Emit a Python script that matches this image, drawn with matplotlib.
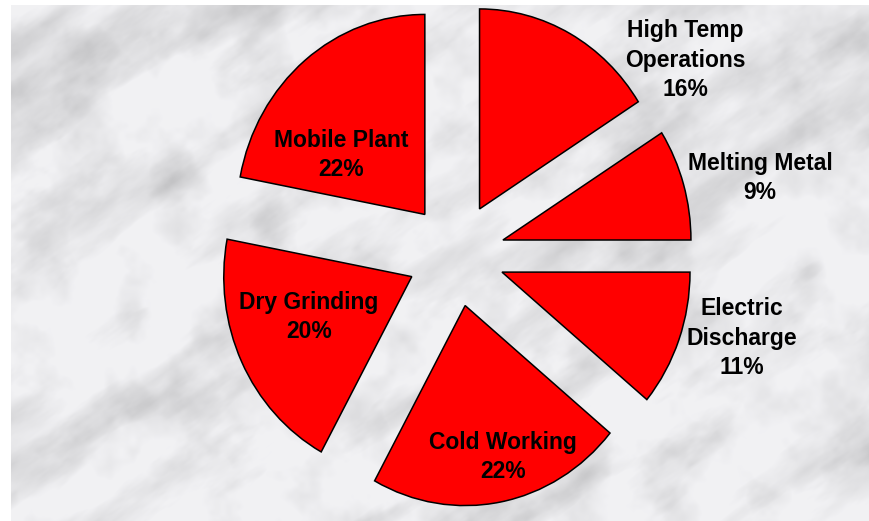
import numpy as np
import matplotlib
matplotlib.use("Agg")
import matplotlib.pyplot as plt
import matplotlib.transforms as mtransforms

# ---- data ----
categories = ["High Temp\nOperations", "Melting Metal", "Electric\nDischarge",
              "Cold Working", "Dry Grinding", "Mobile Plant"]
values = [16, 9, 11, 22, 20, 22]

# ---- layout (pixels of the 870x521 canvas) ----
W, H = 870, 521
CX, CY = 456.0, 254.5        # pie centre (image pixels, y down)
RX, RY = 188.0, 200.0        # horizontal / vertical radius in pixels
EXPLODE = 0.26
label_px = [(685, 60), (760, 178), (742, 338), (503, 457), (309, 317), (341, 155)]
LINE_PX = 29.5

fig = plt.figure(figsize=(W / 100, H / 100), dpi=100)
fig.patch.set_facecolor("white")

# ---- marble background (decorative, deterministic procedural texture) ----
def hash2(ix, iy):
    v = np.sin(ix * 12.9898 + iy * 78.233) * 43758.5453
    return v - np.floor(v)

def vnoise(x, y):
    ix, iy = np.floor(x), np.floor(y)
    fx, fy = x - ix, y - iy
    u = fx * fx * (3 - 2 * fx)
    v = fy * fy * (3 - 2 * fy)
    a = hash2(ix, iy); b = hash2(ix + 1, iy)
    c = hash2(ix, iy + 1); d = hash2(ix + 1, iy + 1)
    return a + (b - a) * u + (c - a) * v + (a - b - c + d) * u * v

def fbm(x, y, octaves=6):
    s, amp, f = 0.0, 0.5, 1.0
    for _ in range(octaves):
        s = s + amp * vnoise(x * f + 17.3 * f, y * f + 5.1 * f)
        f *= 2.0
        amp *= 0.5
    return s

bx0, by0 = 11, 5
bw, bh = W - bx0, H - by0
yy, xx = np.mgrid[0:bh, 0:bw].astype(float)
ang = np.deg2rad(35)
u = (xx * np.cos(ang) - yy * np.sin(ang))
v = (xx * np.sin(ang) + yy * np.cos(ang))
n1 = fbm(u / 120.0, v / 40.0, octaves=5)
n2 = fbm(xx / 45.0 + 40, yy / 45.0 + 11, octaves=4)
streak = np.clip((n1 - 0.45) * 2.4, 0, 1)
mottle = np.clip((n2 - 0.45) * 2.0, 0, 1)
dark = 0.55 * streak + 0.45 * mottle
g = 0.955 - 0.26 * np.clip(dark, 0, 1)
img = np.dstack([g * 0.99, g * 0.99, g * 1.0])
img = np.clip(img, 0, 1)

bgax = fig.add_axes([bx0 / W, 0, bw / W, bh / H])
bgax.imshow(img, aspect="auto", interpolation="bilinear")
bgax.set_axis_off()

# ---- pie ----
ax = fig.add_axes([0, 0, 1, 1])
ax.patch.set_alpha(0)
wedges, _ = ax.pie(values, explode=[EXPLODE] * len(values), startangle=90,
                   counterclock=False, colors=["#FF0000"] * len(values),
                   wedgeprops=dict(edgecolor="black", linewidth=1.1),
                   radius=1.0, center=(0, 0))
ax.set_aspect("auto")
ax.set_xlim(-CX / RX, (W - CX) / RX)
ax.set_ylim(-(H - CY) / RY, CY / RY)
ax.set_axis_off()

font = dict(family=["Liberation Sans", "DejaVu Sans"], fontweight="bold",
            fontsize=16.5, color="black", ha="center", va="center")

for cat, val, (px, py) in zip(categories, values, label_px):
    lines = cat.split("\n") + [f"{val}%"]
    n = len(lines)
    xd = (px - CX) / RX
    yd = (CY - py) / RY
    for i, line in enumerate(lines):
        dy = -(i - (n - 1) / 2) * LINE_PX
        tr = mtransforms.offset_copy(ax.transData, fig=fig, x=0, y=dy, units="dots")
        ax.text(xd, yd, line, transform=tr, **font)

fig.savefig("out.png", dpi=100)
